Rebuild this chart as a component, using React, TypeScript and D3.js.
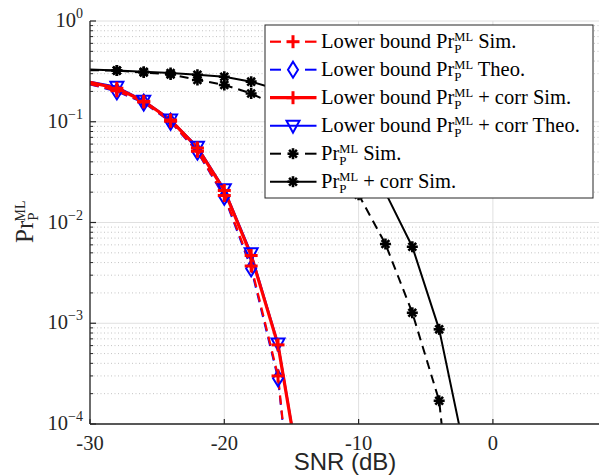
import React from "react";
import * as d3 from "d3";

// ---------- data ----------
const snrLower = [-30, -28, -26, -24, -22, -20, -18, -16, -14];
const lowerSim = [0.237, 0.203, 0.157, 0.101, 0.051, 0.0185, 0.0037, 0.0003, 8e-7];
const lowerTheo = [0.235, 0.2, 0.155, 0.1, 0.0504, 0.018, 0.0035, 0.000284, 8e-7];
const corrSim = [0.246, 0.215, 0.16, 0.104, 0.055, 0.0208, 0.0047, 0.00061, 1.6e-5];
const corrTheo = [0.25, 0.222, 0.162, 0.105, 0.0566, 0.0214, 0.00494, 0.00063, 1.65e-5];

const snrPr = [-30, -28, -26, -24, -22, -20, -18, -16, -14, -12, -10, -8, -6, -4, -2];
const prSim = [0.325, 0.322, 0.308, 0.295, 0.26, 0.232, 0.191, 0.143, 0.1, 0.05, 0.0189, 0.00612, 0.00127, 0.00017, 4.7e-7];
const prCorr = [0.33, 0.323, 0.313, 0.305, 0.293, 0.28, 0.25, 0.209, 0.158, 0.105, 0.056, 0.0198, 0.00575, 0.00087, 4.6e-5];

const xTicks = [-30, -20, -10, 0];
const xTickLabels = ["-30", "-20", "-10", "0"];
const yExps = [0, -1, -2, -3, -4];
const yTickLabels = ["0", "−1", "−2", "−3", "−4"];

const legendLabels = [
  { pre: "Lower bound Pr", post: " Sim." },
  { pre: "Lower bound Pr", post: " Theo." },
  { pre: "Lower bound Pr", post: " + corr Sim." },
  { pre: "Lower bound Pr", post: " + corr Theo." },
  { pre: "Pr", post: " Sim." },
  { pre: "Pr", post: " + corr Sim." },
];

// ---------- layout ----------
const W = 599;
const H = 475;
const left = 90;
const top = 21;
const bottom = 424;
const right = 627.2;

const x = d3.scaleLinear().domain([-30, 10]).range([left, right]);
const y = d3.scaleLog().domain([1e-4, 1]).range([bottom, top]);

const RED = "#ff0000";
const BLUE = "#0000ff";
const BLACK = "#000000";
const SERIF = "'Liberation Serif', 'Times New Roman', serif";
const SANS = "'Liberation Sans', Arial, sans-serif";

type MarkerKind = "plus" | "diamond" | "tri" | "star";

function Marker({ kind, cx, cy, color }: { kind: MarkerKind; cx: number; cy: number; color: string }) {
  if (kind === "plus") {
    return (
      <g stroke={color} strokeWidth={3} fill="none">
        <line x1={cx - 6.5} y1={cy} x2={cx + 6.5} y2={cy} />
        <line x1={cx} y1={cy - 6.5} x2={cx} y2={cy + 6.5} />
      </g>
    );
  }
  if (kind === "diamond") {
    return (
      <path
        d={`M${cx},${cy - 8}L${cx + 5},${cy}L${cx},${cy + 8}L${cx - 5},${cy}Z`}
        stroke={color}
        strokeWidth={2}
        fill="none"
      />
    );
  }
  if (kind === "tri") {
    return (
      <path
        d={`M${cx - 6.5},${cy - 5}L${cx + 6.5},${cy - 5}L${cx},${cy + 7}Z`}
        stroke={color}
        strokeWidth={2}
        fill="none"
      />
    );
  }
  const r = 5.5;
  const d = r * 0.7071;
  return (
    <g stroke={color} strokeWidth={2.6} fill="none">
      <line x1={cx - r} y1={cy} x2={cx + r} y2={cy} />
      <line x1={cx} y1={cy - r} x2={cx} y2={cy + r} />
      <line x1={cx - d} y1={cy - d} x2={cx + d} y2={cy + d} />
      <line x1={cx - d} y1={cy + d} x2={cx + d} y2={cy - d} />
    </g>
  );
}

type Series = {
  xs: number[];
  ys: number[];
  color: string;
  width: number;
  dash?: string;
  marker: MarkerKind;
};

const series: Series[] = [
  { xs: snrLower, ys: lowerTheo, color: BLUE, width: 2, dash: "9,6", marker: "diamond" },
  { xs: snrLower, ys: corrTheo, color: BLUE, width: 2, marker: "tri" },
  { xs: snrLower, ys: lowerSim, color: RED, width: 2.2, dash: "9,6", marker: "plus" },
  { xs: snrLower, ys: corrSim, color: RED, width: 3.2, marker: "plus" },
  { xs: snrPr, ys: prSim, color: BLACK, width: 2, dash: "9,6", marker: "star" },
  { xs: snrPr, ys: prCorr, color: BLACK, width: 2, marker: "star" },
];

const legendStyles: { color: string; width: number; dashed: boolean; marker: MarkerKind }[] = [
  { color: RED, width: 2.2, dashed: true, marker: "plus" },
  { color: BLUE, width: 2, dashed: true, marker: "diamond" },
  { color: RED, width: 3.2, dashed: false, marker: "plus" },
  { color: BLUE, width: 2, dashed: false, marker: "tri" },
  { color: BLACK, width: 2, dashed: true, marker: "star" },
  { color: BLACK, width: 2, dashed: false, marker: "star" },
];

export default function App() {
  const line = d3
    .line<[number, number]>()
    .x((d) => x(d[0]))
    .y((d) => y(Math.max(d[1], 1e-12)));

  const minorY: number[] = [];
  for (let e = -4; e < 0; e++) {
    for (let m = 2; m <= 9; m++) minorY.push(m * Math.pow(10, e));
  }

  const legX = 265;
  const legY = 25;
  const legW = 328;
  const legH = 173;
  const rowY = (i: number) => 41.7 + i * 28;

  return (
    <svg width={W} height={H} style={{ position: "absolute", left: 0, top: 0, background: "#fff" }}>
      <defs>
        <clipPath id="plotClip">
          <rect x={left} y={top} width={right - left} height={bottom - top} />
        </clipPath>
      </defs>
      <rect x={0} y={0} width={W} height={H} fill="#fff" />

      {/* minor grid */}
      {minorY.map((v, i) => (
        <line
          key={"mg" + i}
          x1={left}
          x2={right}
          y1={y(v)}
          y2={y(v)}
          stroke="#c4c4c4"
          strokeWidth={1}
          strokeDasharray="1,2.5"
        />
      ))}
      {/* major grid */}
      {yExps.map((e) => (
        <line key={"gy" + e} x1={left} x2={right} y1={y(Math.pow(10, e))} y2={y(Math.pow(10, e))} stroke="#e0e0e0" strokeWidth={1} />
      ))}
      {xTicks.map((t) => (
        <line key={"gx" + t} x1={x(t)} x2={x(t)} y1={top} y2={bottom} stroke="#e0e0e0" strokeWidth={1} />
      ))}

      {/* data */}
      <g clipPath="url(#plotClip)">
        {series.map((s, i) => (
          <path
            key={"l" + i}
            d={line(s.xs.map((v, j) => [v, s.ys[j]] as [number, number])) || ""}
            fill="none"
            stroke={s.color}
            strokeWidth={s.width}
            strokeDasharray={s.dash}
            strokeLinejoin="round"
          />
        ))}
        {series.map((s, i) => (
          <g key={"m" + i}>
            {s.xs.map((v, j) =>
              v > -30 && s.ys[j] >= 1e-4 ? (
                <Marker key={j} kind={s.marker} cx={x(v)} cy={y(s.ys[j])} color={s.color} />
              ) : null
            )}
          </g>
        ))}
      </g>

      {/* axes */}
      <line x1={left} x2={left} y1={top} y2={bottom} stroke="#262626" strokeWidth={1.3} />
      <line x1={left} x2={right} y1={bottom} y2={bottom} stroke="#262626" strokeWidth={1.3} />
      {xTicks.map((t) => (
        <line key={"xt" + t} x1={x(t)} x2={x(t)} y1={bottom} y2={bottom - 5} stroke="#262626" strokeWidth={1.2} />
      ))}
      {yExps.map((e) => (
        <line key={"yt" + e} x1={left} x2={left + 6} y1={y(Math.pow(10, e))} y2={y(Math.pow(10, e))} stroke="#262626" strokeWidth={1.2} />
      ))}
      {minorY.map((v, i) => (
        <line key={"ymt" + i} x1={left} x2={left + 3} y1={y(v)} y2={y(v)} stroke="#262626" strokeWidth={1} />
      ))}

      {/* x tick labels */}
      {xTicks.map((t, i) => (
        <text key={"xl" + t} x={x(t)} y={450} textAnchor="middle" fontFamily={SERIF} fontSize={20.5} fill="#262626">
          {xTickLabels[i]}
        </text>
      ))}
      {/* y tick labels */}
      {yExps.map((e, i) => (
        <text key={"yl" + e} x={83} y={y(Math.pow(10, e)) + 6} textAnchor="end" fontFamily={SERIF} fontSize={20.5} fill="#262626">
          10
          <tspan dy={-9} fontSize={14}>
            {yTickLabels[i]}
          </tspan>
        </text>
      ))}

      {/* axis labels */}
      <text x={345} y={470} textAnchor="middle" fontFamily={SANS} fontSize={24} fill="#262626">
        SNR (dB)
      </text>
      <g transform="translate(33,243) rotate(-90)">
        <text x={0} y={0} fontFamily={SERIF} fontSize={25} fill="#262626">
          Pr
          <tspan dy={5} fontSize={15}>P</tspan>
          <tspan dx={-9} dy={-13} fontSize={14}>ML</tspan>
        </text>
      </g>

      {/* legend */}
      <rect x={legX} y={legY} width={legW} height={legH} fill="#fff" stroke="#262626" strokeWidth={1} />
      {legendStyles.map((st, i) => {
        const cy = rowY(i);
        return (
          <g key={"lg" + i}>
            {st.dashed ? (
              <g stroke={st.color} strokeWidth={st.width}>
                <line x1={270} x2={281} y1={cy} y2={cy} />
                <line x1={305} x2={316.5} y1={cy} y2={cy} />
              </g>
            ) : (
              <line x1={270} x2={316.5} y1={cy} y2={cy} stroke={st.color} strokeWidth={st.width} />
            )}
            <Marker kind={st.marker} cx={293} cy={cy} color={st.color} />
            <text x={321} y={cy + 6} fontFamily={SERIF} fontSize={20.5} fill="#000">
              {legendLabels[i].pre}
              <tspan dy={5} fontSize={13}>P</tspan>
              <tspan dx={-7.2} dy={-12} fontSize={12.5}>ML</tspan>
              <tspan dy={7} fontSize={20.5}>{legendLabels[i].post}</tspan>
            </text>
          </g>
        );
      })}
    </svg>
  );
}
